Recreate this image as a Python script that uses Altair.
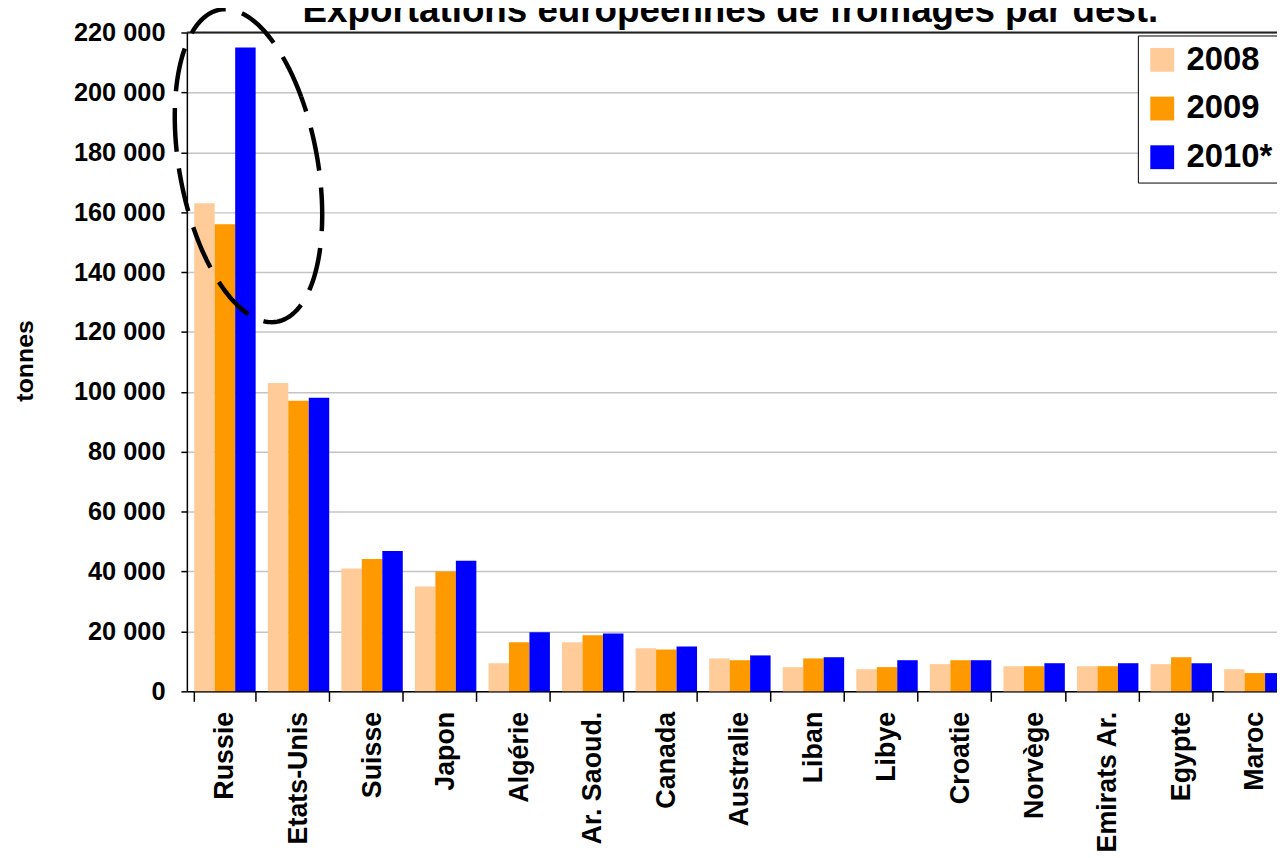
import altair as alt
import numpy as np
import pandas as pd

# ---------------- data ----------------
countries = ["Russie", "Etats-Unis", "Suisse", "Japon", "Algérie", "Ar. Saoud.",
             "Canada", "Australie", "Liban", "Libye", "Croatie", "Norvège",
             "Emirats Ar.", "Egypte", "Maroc"]
years = ["2008", "2009", "2010*"]
v2008 = [163000, 103000, 41000, 35000, 9400, 16400, 14400, 11000, 8100, 7400, 9100, 8400, 8400, 9100, 7400]
v2009 = [156000, 97000, 44200, 40000, 16400, 18700, 14000, 10400, 11000, 8100, 10400, 8400, 8400, 11400, 6100]
v2010 = [215000, 98000, 46900, 43600, 19700, 19300, 15000, 12000, 11400, 10400, 10400, 9400, 9400, 9400, 6100]
colors = ["#FFCC99", "#FF9900", "#0000FF"]
y_ticks = list(range(0, 220001, 20000))
title_text = "Exportations européennes de fromages par dest."
y_title = "tonnes"

rows = []
for yr, vals in zip(years, [v2008, v2009, v2010]):
    for c, v in zip(countries, vals):
        rows.append({"pays": c, "annee": yr, "tonnes": v})
df = pd.DataFrame(rows)

# ---------------- layout ----------------
W, H = 1097, 663
X_RANGE = 1113          # category axis runs past the right edge (cropped like the reference)
FONT = "Liberation Sans"

# dashed annotation ellipse around Russia (pixel space of the plot area)
ELL_CX, ELL_CY = 62.0, 134.0
ELL_A, ELL_B = 159.6, 69.5
ELL_PHI = np.deg2rad(10.4)
t = np.linspace(np.pi * 0.62, np.pi * 0.62 + 2 * np.pi, 240)
ex = ELL_CX + ELL_A * np.cos(t) * np.sin(ELL_PHI) + ELL_B * np.sin(t) * np.cos(ELL_PHI)
ey = ELL_CY + ELL_A * np.cos(t) * np.cos(ELL_PHI) - ELL_B * np.sin(t) * np.sin(ELL_PHI)
ell_df = pd.DataFrame({"x": ex, "y": ey, "i": np.arange(len(t))})

yscale = alt.Scale(domain=[0, 220000], nice=False)

bars = alt.Chart(df).mark_bar().encode(
    x=alt.X("pays:N", sort=countries, title=None,
            scale=alt.Scale(range=[0, X_RANGE], paddingInner=0.165, paddingOuter=0.1),
            axis=alt.Axis(labelAngle=270, labelAlign="right", labelBaseline="middle",
                          labelFontSize=27, labelFontWeight="bold", labelFont=FONT,
                          labelColor="black", labelPadding=10, tickSize=10,
                          tickColor="black", tickWidth=1.5, domainColor="black",
                          domainWidth=1.5, tickBand="extent", grid=False)),
    xOffset=alt.XOffset("annee:N", sort=years),
    y=alt.Y("tonnes:Q", scale=yscale, title=y_title,
            axis=alt.Axis(values=y_ticks,
                          labelExpr="replace(format(datum.value, ','), ',', ' ')",
                          labelFontSize=25.5, labelFontWeight="bold", labelFont=FONT,
                          labelColor="black", labelPadding=16, tickSize=6,
                          tickColor="black", tickWidth=1.5, domainColor="black",
                          domainWidth=1.5, grid=True, gridColor="#c4c4c4",
                          gridWidth=1.5, titleFont=FONT, titleFontSize=25,
                          titleFontWeight="bold", titleColor="black",
                          titleAngle=270, titleAlign="center",
                          titleBaseline="alphabetic", titleX=-155, titleY=330)),
    color=alt.Color("annee:N", sort=years,
                    scale=alt.Scale(domain=years, range=colors),
                    legend=alt.Legend(title=None, orient="none", legendX=957, legendY=3,
                                      fillColor="white", strokeColor="black",
                                      padding=8, symbolType="square", symbolSize=576,
                                      symbolStrokeWidth=0, labelFontSize=33,
                                      labelFontWeight="bold", labelFont=FONT,
                                      labelColor="black", rowPadding=15,
                                      labelOffset=8)),
)

top_line = alt.Chart(pd.DataFrame({"v": [220000]})).mark_rule(
    color="#222222", strokeWidth=2
).encode(y=alt.Y("v:Q", scale=yscale))

main = alt.layer(bars, top_line)

ellipse = alt.Chart(ell_df).mark_line(
    color="black", strokeWidth=4.5, strokeDash=[44, 17], strokeCap="butt"
).encode(
    x=alt.X("x:Q", scale=alt.Scale(domain=[0, W], nice=False, zero=False), axis=None),
    y=alt.Y("y:Q", scale=alt.Scale(domain=[0, H], nice=False, zero=False, reverse=True), axis=None),
    order="i:Q",
)

title = alt.Chart(pd.DataFrame({"t": [title_text]})).mark_text(
    font=FONT, fontSize=37, fontWeight="bold", color="black",
    align="center", baseline="alphabetic"
).encode(text="t:N", x=alt.value(547), y=alt.value(-11))

chart = alt.layer(main, ellipse, title).resolve_scale(
    x="independent", y="independent", color="independent"
).properties(
    width=W, height=H,
    padding={"left": 180, "top": 22, "right": 0, "bottom": 160},
    autosize=alt.AutoSizeParams(type="none"),
).configure_view(stroke=None).configure_legend(strokeWidth=2).configure(background="white")

chart.save("out.html", embed_options={"renderer": "svg", "actions": False})
